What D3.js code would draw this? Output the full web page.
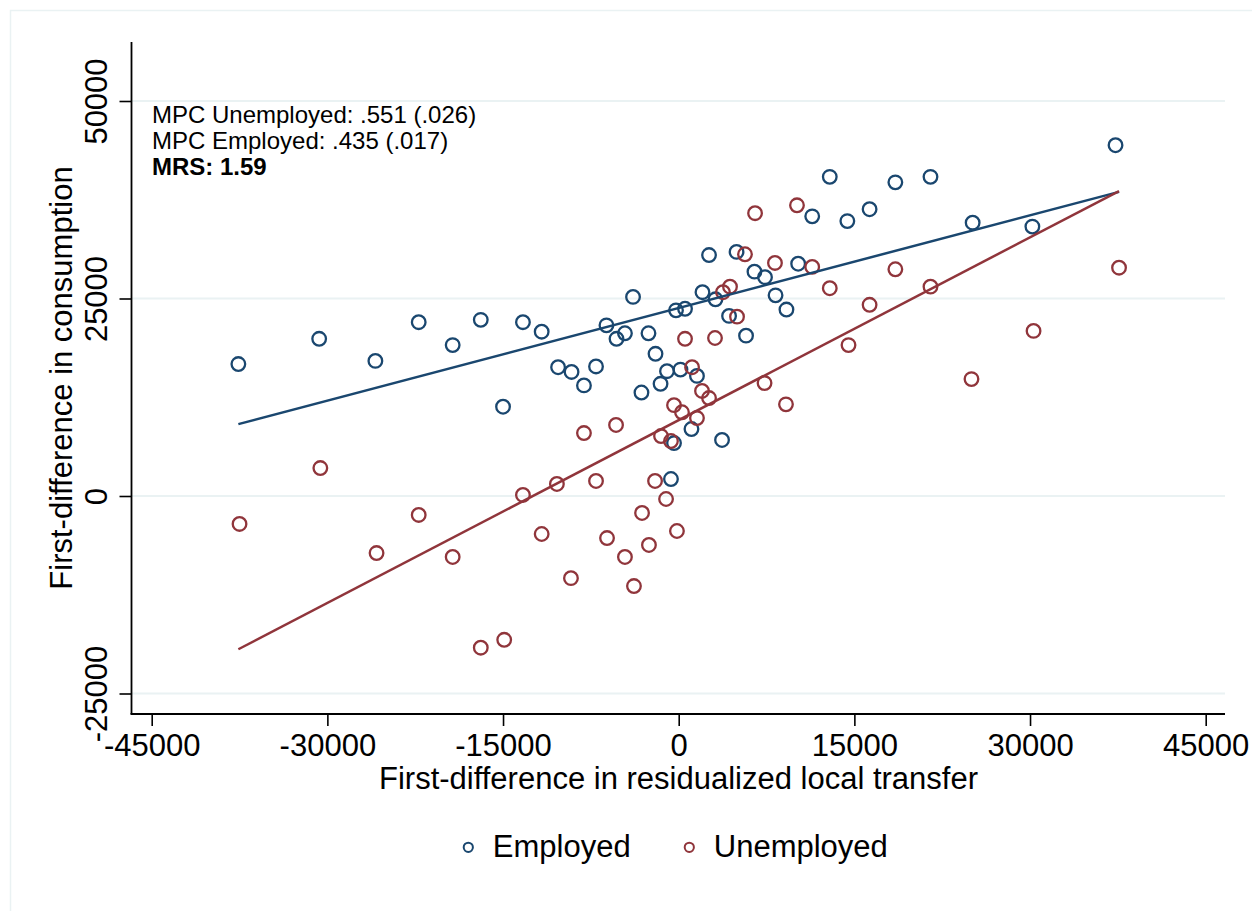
<!DOCTYPE html>
<html>
<head>
<meta charset="utf-8">
<script src="https://cdn.jsdelivr.net/npm/d3@7"></script>
<style>
	body { margin: 0; background: #fff; }
	text { font-family: "Liberation Sans", Arial, sans-serif; fill: #000; }
</style>
</head>
<body>
<div id="chart"></div>
<script>
// scatter values
var empX = [-37600, -30700, -25900, -22200, -19300, -16900, -15000, -13300, -11700, -10300, -9150, -8090, -7060, -6170, -5310, -4590, -3900, -3180, -2580, -1980, -1550, -1000, -660, -400, -230, 150, 540, 1090, 1560, 2030, 2590, 3140, 3700, 4300, 4940, 5750, 6470, 7370, 8270, 9200, 10200, 11400, 12900, 14400, 16300, 18500, 21500, 25100, 30200, 37300];
var empY = [16700, 19900, 17100, 22000, 19100, 22300, 11300, 22000, 20800, 16300, 15700, 14000, 16400, 21600, 19900, 20600, 25200, 13100, 20600, 18000, 14200, 15800, 2150, 6700, 23500, 16000, 23700, 8480, 15200, 25800, 30500, 24900, 7090, 22800, 30900, 20300, 28400, 27700, 25400, 23600, 29400, 35400, 40400, 34800, 36300, 39700, 40400, 34600, 34100, 44400];
var unempX = [-37500, -30600, -25800, -22200, -19300, -16900, -14900, -13300, -11700, -10400, -9200, -8090, -7060, -6120, -5350, -4590, -3820, -3130, -2540, -2020, -1510, -1080, -660, -400, -150, 280, 540, 1140, 1560, 1990, 2590, 3100, 3780, 4380, 4980, 5660, 6520, 7330, 8220, 9160, 10100, 11400, 12900, 14500, 16300, 18500, 21500, 25000, 30300, 37600];
var unempY = [-3540, 3540, -7220, -2400, -7720, -19200, -18200, 130, -4810, 1520, -10400, 7970, 1900, -5320, 8990, -7720, -11400, -2150, -6200, 1900, 7590, -380, 6960, 11500, -4430, 10600, 19900, 16300, 9870, 13300, 12400, 20000, 25800, 26500, 22700, 30600, 35800, 14300, 29500, 11600, 36800, 29000, 26300, 19100, 24200, 28700, 26500, 14800, 20900, 28900];

// linear fit endpoints
var fitX = [-37600, 37600];
var fitEmp = [9100, 38500];
var fitUnemp = [-19400, 38600];

var xTicks = [-45000, -30000, -15000, 0, 15000, 30000, 45000];
var yTicks = [-25000, 0, 25000, 50000];
var notes = ["MPC Unemployed: .551 (.026)", "MPC Employed: .435 (.017)", "MRS: 1.59"];
var seriesNames = ["Employed", "Unemployed"];

(function() {
	var width = 1252;
	var height = 911;
	var blue = "#1a476f";
	var red = "#90353b";
	var grid = "#eaf2f3";

	var svg = d3.select("#chart")
		.append("svg")
		.attr("width", width)
		.attr("height", height);

	// faint graph region border (only top/left visible in the crop)
	svg.append("rect")
		.attr("x", 10.5).attr("y", 10.5)
		.attr("width", 1260).attr("height", 920)
		.attr("fill", "none")
		.attr("stroke", grid)
		.attr("stroke-width", 1.5);

	var x = d3.scaleLinear().domain([-45000, 45000]).range([151.7, 1205.7]);
	var y = d3.scaleLinear().domain([-25000, 50000]).range([693.5, 101]);

	var left = 131.5, right = 1225, top = 42, bottom = 714;
	// plain hyphen minus, like the original
	var fmt = function(d) { return String(d); };

	// gridlines
	svg.append("g").selectAll("line")
		.data(yTicks)
		.enter()
		.append("line")
		.attr("x1", left).attr("x2", right)
		.attr("y1", function(d) { return y(d); })
		.attr("y2", function(d) { return y(d); })
		.attr("stroke", grid)
		.attr("stroke-width", 2);

	// y axis
	var yAxis = svg.append("g")
		.attr("transform", "translate(" + left + ",0)")
		.call(d3.axisLeft(y).tickValues(yTicks).tickSize(12).tickFormat(fmt));
	yAxis.select(".domain").remove();
	yAxis.selectAll(".tick line").attr("stroke", "#000").attr("stroke-width", 1.6);
	yAxis.selectAll(".tick text")
		.attr("x", null).attr("dy", null)
		.attr("text-anchor", "middle")
		.attr("transform", "translate(-24.5,0) rotate(-90)")
		.style("font-size", "31px");
	svg.append("line")
		.attr("x1", left).attr("x2", left)
		.attr("y1", top).attr("y2", bottom)
		.attr("stroke", "#000").attr("stroke-width", 1.8);

	// x axis
	var xAxis = svg.append("g")
		.attr("transform", "translate(0," + bottom + ")")
		.call(d3.axisBottom(x).tickValues(xTicks).tickSize(12).tickFormat(fmt));
	xAxis.select(".domain").remove();
	xAxis.selectAll(".tick line").attr("stroke", "#000").attr("stroke-width", 1.6);
	xAxis.selectAll(".tick text")
		.attr("y", 42).attr("dy", null)
		.style("font-size", "31px");
	svg.append("line")
		.attr("x1", left - 1).attr("x2", right)
		.attr("y1", bottom).attr("y2", bottom)
		.attr("stroke", "#000").attr("stroke-width", 1.8);

	// axis titles
	svg.append("text")
		.attr("x", 678.5).attr("y", 789)
		.attr("text-anchor", "middle")
		.style("font-size", "31px")
		.text("First-difference in residualized local transfer");
	svg.append("text")
		.attr("transform", "translate(72,378) rotate(-90)")
		.attr("text-anchor", "middle")
		.style("font-size", "31px")
		.text("First-difference in consumption");

	// points
	function drawPoints(xs, ys, color) {
		svg.append("g").selectAll("circle")
			.data(xs)
			.enter()
			.append("circle")
			.attr("cx", function(d) { return x(d); })
			.attr("cy", function(d, i) { return y(ys[i]); })
			.attr("r", 6.8)
			.attr("fill", "none")
			.attr("stroke", color)
			.attr("stroke-width", 2.3);
	}
	drawPoints(empX, empY, blue);
	drawPoints(unempX, unempY, red);

	// fit lines
	var line = d3.line()
		.x(function(d) { return x(d[0]); })
		.y(function(d) { return y(d[1]); });
	svg.append("path")
		.attr("d", line(d3.zip(fitX, fitEmp)))
		.attr("fill", "none").attr("stroke", blue).attr("stroke-width", 2.5);
	svg.append("path")
		.attr("d", line(d3.zip(fitX, fitUnemp)))
		.attr("fill", "none").attr("stroke", red).attr("stroke-width", 2.5);

	// annotation
	svg.append("g").selectAll("text")
		.data(notes)
		.enter()
		.append("text")
		.attr("x", 152)
		.attr("y", function(d, i) { return 123 + i * 26; })
		.style("font-size", "24px")
		.style("font-weight", function(d, i) { return i === 2 ? "bold" : "normal"; })
		.text(function(d) { return d; });

	// legend
	var legend = svg.append("g");
	var legendX = [468.3, 689.3];
	var legendColors = [blue, red];
	legend.selectAll("circle")
		.data(seriesNames)
		.enter()
		.append("circle")
		.attr("cx", function(d, i) { return legendX[i]; })
		.attr("cy", 847.3)
		.attr("r", 4.6)
		.attr("fill", "none")
		.attr("stroke", function(d, i) { return legendColors[i]; })
		.attr("stroke-width", 2);
	legend.selectAll("text")
		.data(seriesNames)
		.enter()
		.append("text")
		.attr("x", function(d, i) { return legendX[i] + 24.5; })
		.attr("y", 857)
		.style("font-size", "31px")
		.text(function(d) { return d; });
})();
</script>
</body>
</html>
